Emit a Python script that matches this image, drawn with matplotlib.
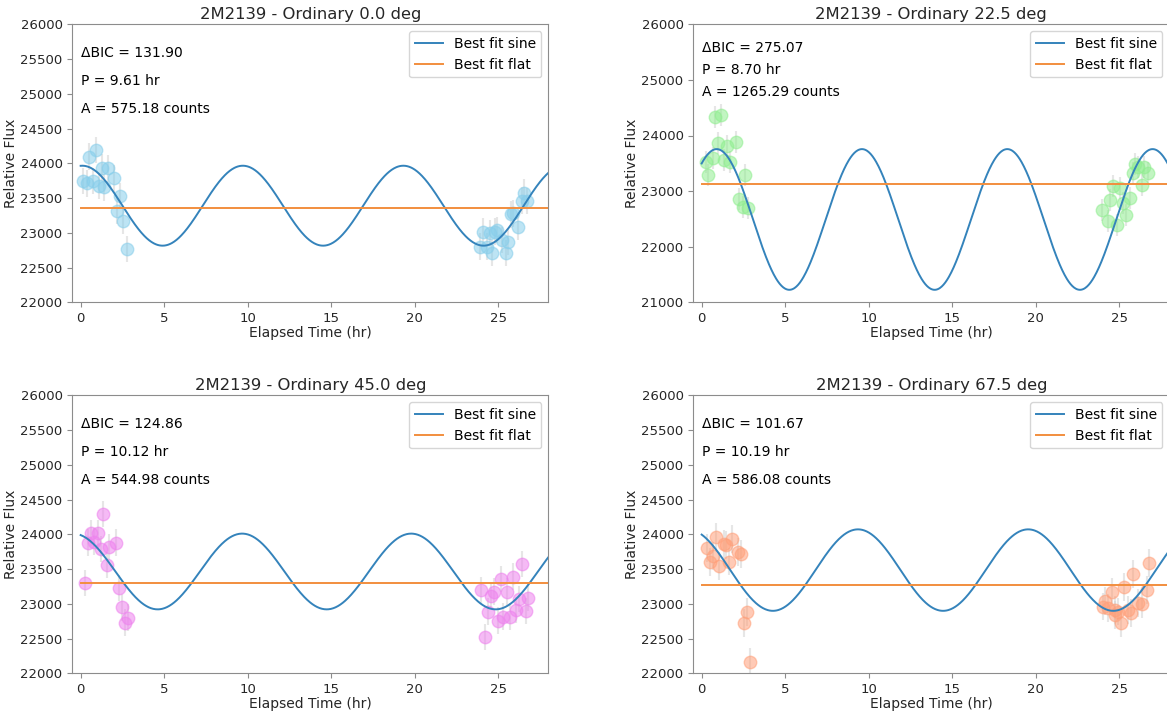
import numpy as np
import matplotlib
matplotlib.use("Agg")
import matplotlib.pyplot as plt

# ---------------- data ----------------
titles = ["2M2139 - Ordinary 0.0 deg", "2M2139 - Ordinary 22.5 deg",
          "2M2139 - Ordinary 45.0 deg", "2M2139 - Ordinary 67.5 deg"]
colors = ["skyblue", "lightgreen", "violet", "lightsalmon"]
dbic = [131.90, 275.07, 124.86, 101.67]
period = [9.61, 8.70, 10.12, 10.19]
amp = [575.18, 1265.29, 544.98, 586.08]
sine_offset = [23390, 22490, 23465, 23485]
sine_t0 = [0.10, 0.90, -0.45, -0.83]
flat_level = [23350, 23120, 23300, 23270]
ylims = [(22000, 26000), (21000, 26000), (22000, 26000), (22000, 26000)]

t0_time = [0.16, 0.36, 0.52, 0.90, 0.72, 1.10, 1.26, 1.42, 1.66, 2.00, 2.36, 2.16, 2.52, 2.76,
           26.54, 26.40, 26.74, 25.87, 25.74, 26.18, 24.10, 24.50, 24.94, 24.78, 25.24, 25.60,
           23.94, 24.34, 24.64, 25.44]
t0_flux = [23749, 23712, 24095, 24191, 23749, 23673, 23937, 23654, 23928, 23784, 23529, 23313, 23174, 22767,
           23577, 23462, 23457, 23280, 23266, 23088, 23016, 22993, 23040, 23016, 22896, 22872,
           22800, 22800, 22713, 22713]

t1_time = [0.80, 1.16, 0.96, 1.52, 2.07, 0.26, 0.66, 1.31, 1.71, 0.40, 2.61, 2.25, 2.45, 2.79,
           25.95, 26.15, 26.50, 26.70, 25.80, 24.65, 25.05, 26.34, 24.45, 25.65, 25.25, 23.96,
           25.41, 24.30, 24.85]
t1_flux = [24327, 24368, 23870, 23810, 23877, 23528, 23589, 23559, 23528, 23294, 23294, 22852, 22719, 22690,
           23487, 23438, 23427, 23330, 23320, 23091, 23050, 23109, 22839, 22870, 22780, 22659,
           22569, 22467, 22389]

t2_time = [0.26, 1.36, 0.60, 1.02, 0.46, 0.80, 1.20, 1.71, 2.12, 1.56, 2.30, 2.46, 2.82, 2.66,
           26.44, 25.88, 25.14, 24.00, 24.74, 24.54, 25.50, 26.24, 26.80, 24.38, 26.08, 26.64,
           25.30, 25.70, 24.98, 24.20]
t2_flux = [23297, 24295, 24017, 24017, 23882, 23896, 23791, 23815, 23882, 23560, 23225, 22948, 22801, 22729,
           23575, 23392, 23354, 23200, 23176, 23114, 23176, 23066, 23089, 22888, 22912, 22898,
           22815, 22815, 22758, 22519]

t3_time = [0.86, 0.32, 1.31, 1.46, 1.79, 0.66, 0.52, 1.06, 1.61, 2.15, 2.35, 2.71, 2.51, 2.89,
           26.79, 25.85, 25.31, 24.55, 26.64, 24.16, 24.02, 24.30, 26.10, 26.34, 24.76, 24.95,
           25.55, 25.71, 24.76, 25.09]
t3_flux = [23960, 23801, 23859, 23849, 23931, 23690, 23599, 23546, 23608, 23748, 23715, 22879, 22729, 22167,
           23585, 23431, 23239, 23167, 23200, 23046, 22960, 22936, 23008, 22994, 22912, 22888,
           22912, 22864, 22840, 22720]

flux_err = [190, 200, 190, 200]

times = [t0_time, t1_time, t2_time, t3_time]
fluxes = [t0_flux, t1_flux, t2_flux, t3_flux]

# ---------------- plot ----------------
plt.rcParams['font.family'] = ['DejaVu Sans']
fig = plt.figure(figsize=(11.67, 7.14), dpi=100)

W, H = 1167.0, 714.0
ax_w = 476.0 / W
ax_h = 278.0 / H
lefts = [72.3 / W, 693.3 / W]
bottoms = [1 - 302.3 / H, 1 - 673.3 / H]
positions = [(lefts[0], bottoms[0]), (lefts[1], bottoms[0]),
             (lefts[0], bottoms[1]), (lefts[1], bottoms[1])]

spine_col = "#8c8c8c"
tgrid = np.linspace(0, 28.5, 800)

for i in range(4):
    ax = fig.add_axes([positions[i][0], positions[i][1], ax_w, ax_h])
    ax.errorbar(times[i], fluxes[i], yerr=flux_err[i], fmt='o', color=colors[i],
                ms=9, alpha=0.55, ecolor='lightgray', elinewidth=1.5, zorder=2)
    model = sine_offset[i] + amp[i] * np.cos(2 * np.pi * (tgrid - sine_t0[i]) / period[i])
    ax.plot(tgrid, model, color='#3483bb', lw=1.4, label='Best fit sine', zorder=3)
    ax.plot([0, 28.5], [flat_level[i], flat_level[i]], color='#f28e3e', lw=1.4,
            label='Best fit flat', zorder=3)
    ax.set_xlim(-0.5, 28)
    ax.set_ylim(*ylims[i])
    ax.set_title(titles[i], fontsize=11.8, color='#262626', pad=3.5)
    ax.set_xlabel("Elapsed Time (hr)", fontsize=10, color='#262626', labelpad=1)
    ax.set_ylabel("Relative Flux", fontsize=10, color='#262626', labelpad=2)
    ax.tick_params(labelsize=9.5, colors=spine_col, labelcolor='#262626')
    for s in ax.spines.values():
        s.set_color(spine_col)
    ax.text(0, 25580, "\u0394BIC = %.2f" % dbic[i], fontsize=10, va='center', ha='left')
    ax.text(0, 25180, "P = %.2f hr" % period[i], fontsize=10, va='center', ha='left')
    ax.text(0, 24780, "A = %.2f counts" % amp[i], fontsize=10, va='center', ha='left')
    ax.legend(loc='upper right', fontsize=10)

fig.savefig("out.png", dpi=100)
